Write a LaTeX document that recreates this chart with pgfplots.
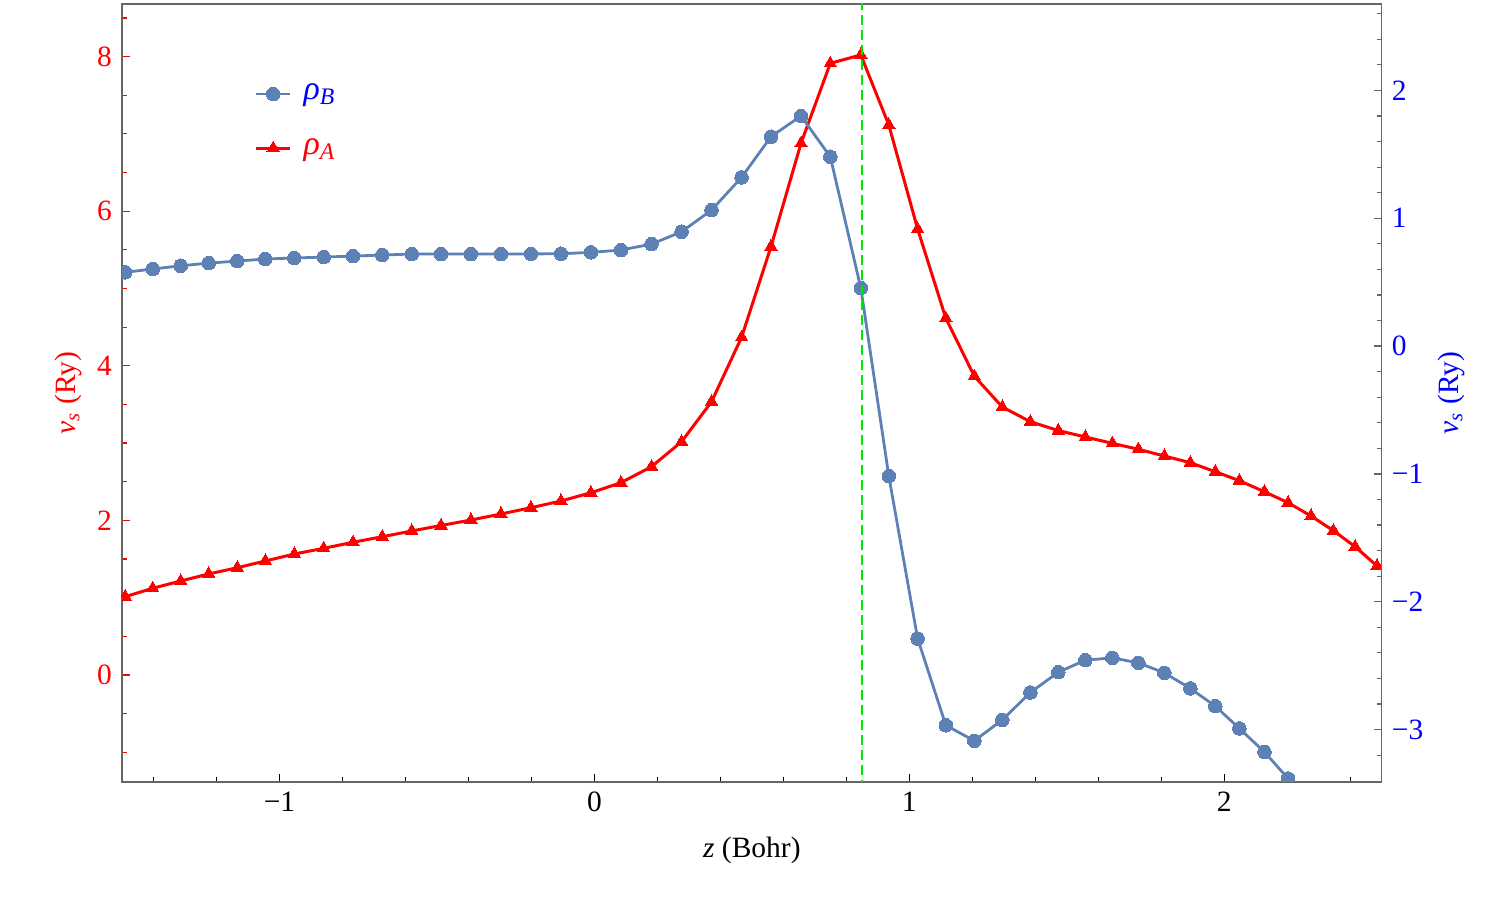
\documentclass[border=0pt]{standalone}
\usepackage{fontspec}
\setmainfont{Liberation Serif}
\usepackage{pgfplots}
\usepackage{pgfplotstable}
\pgfplotsset{compat=1.18}
\definecolor{mblue}{RGB}{94,129,181}
\definecolor{framegray}{gray}{0.4}
\definecolor{lgreen}{RGB}{0,230,0}

\pgfplotstableread{
x r
-1.490 1.013
-1.4025 1.122
-1.3136 1.216
-1.2247 1.307
-1.1339 1.388
-1.0449 1.475
-0.9528 1.565
-0.8595 1.639
-0.7664 1.717
-0.6734 1.789
-0.5800 1.863
-0.487 1.934
-0.3920 2.005
-0.2967 2.083
-0.2014 2.164
-0.1062 2.251
-0.0109 2.358
0.0844 2.488
0.1816 2.695
0.2768 3.018
0.3721 3.536
0.4674 4.369
0.5608 5.541
0.6561 6.878
0.7491 7.913
0.846 8.021
0.9349 7.115
1.0264 5.770
1.1159 4.615
1.2064 3.865
1.2953 3.467
1.3843 3.277
1.4732 3.162
1.5589 3.079
1.6447 2.997
1.7272 2.920
1.8098 2.833
1.8923 2.746
1.9717 2.630
2.0479 2.514
2.1276 2.371
2.2027 2.229
2.2758 2.057
2.3466 1.867
2.4155 1.660
2.4853 1.410
}\redtable

\pgfplotstableread{
x b
-1.490 0.577
-1.4025 0.603
-1.3136 0.628
-1.2247 0.649
-1.1339 0.665
-1.0449 0.681
-0.9528 0.689
-0.8595 0.696
-0.7664 0.704
-0.6734 0.712
-0.5800 0.720
-0.487 0.720
-0.3920 0.720
-0.2967 0.720
-0.2014 0.721
-0.1062 0.722
-0.0109 0.733
0.0844 0.751
0.1816 0.798
0.2768 0.894
0.3721 1.064
0.4674 1.320
0.5608 1.638
0.6561 1.800
0.7491 1.481
0.846 0.454
0.9349 -1.017
1.0264 -2.288
1.1159 -2.966
1.2064 -3.088
1.2953 -2.924
1.3843 -2.710
1.4732 -2.551
1.5589 -2.457
1.6447 -2.439
1.7272 -2.478
1.8098 -2.556
1.8923 -2.678
1.9717 -2.817
2.0479 -2.991
2.1276 -3.175
2.2027 -3.383
}\bluetable

\begin{document}
\fontsize{14.8pt}{17pt}\selectfont
\begin{tikzpicture}
\pgfplotsset{
  every axis/.append style={
    width=629.85bp, height=389bp, scale only axis,
    at={(0,0)}, anchor=south west,
    xmin=-1.5, xmax=2.5,
    clip marker paths=true,
    /pgf/number format/assume math mode=true,
    major tick length=4bp, minor tick length=2.5bp,
    axis line style={framegray, line width=0.6bp},
    every tick/.style={line width=0.6bp},
  },
}
\begin{axis}[
  xtick={-1,0,1,2}, xticklabels={−1,0,1,2},
  minor xtick={-1.4,-1.2,-0.8,-0.6,-0.4,-0.2,0.2,0.4,0.6,0.8,1.2,1.4,1.6,1.8,2.2,2.4},
  xtick pos=left,
  x tick style={black},
  ymin=-1.384, ymax=8.68,
  ytick={0,2,4,6,8},
  minor ytick={-1,-0.5,0.5,1,1.5,2.5,3,3.5,4.5,5,5.5,6.5,7,7.5,8.5},
  ytick pos=left,
  y tick style={red},
  yticklabel style={red},
  xlabel={\textit{z} (Bohr)},
  xlabel style={at={(axis description cs:0.5,-0.0874)}, anchor=center},
  ylabel={\textit{v}\textsubscript{\textit{s}} (Ry)},
  ylabel style={red, at={(axis description cs:-0.0429,0.5)}, anchor=center},
]
\addplot[red, line width=1.5bp, mark=triangle*, mark size=3.6bp,
  mark options={solid, fill=red, draw=red, line width=0pt}]
  table[x=x, y=r]{\redtable};
\end{axis}
\begin{axis}[
  axis x line=none,
  axis y line*=right,
  ymin=-3.41, ymax=2.676,
  ytick={-3,-2,-1,0,1,2}, yticklabels={−3,−2,−1,0,1,2},
  minor ytick={-3.2,-2.8,-2.6,-2.4,-2.2,-1.8,-1.6,-1.4,-1.2,-0.8,-0.6,-0.4,-0.2,0.2,0.4,0.6,0.8,1.2,1.4,1.6,1.8,2.2,2.4,2.6},
  ytick pos=right,
  y tick style={framegray},
  yticklabel style={blue},
  ylabel={\textit{v}\textsubscript{\textit{s}} (Ry)},
  ylabel style={blue, at={(axis description cs:1.0551,0.5)}, anchor=center, rotate=0},
  legend style={at={(axis description cs:0.105,0.903)}, anchor=north west,
    draw=none, fill=none, inner sep=0pt, row sep=13bp,
    font=\fontsize{17pt}{19pt}\selectfont},
  legend cell align=left,
]
\addplot[mblue, line width=1.4bp, mark=*, mark size=3.4bp,
  mark options={solid, fill=mblue, draw=mblue, line width=0pt}]
  table[x=x, y=b]{\bluetable};
\addlegendentry{\hspace{4bp}\textcolor{blue}{\textit{ρ}\textsubscript{\textit{B}}}}
\addlegendimage{red, line width=1.5bp, mark=triangle*, mark size=3.6bp,
  mark options={solid, fill=red, draw=red, line width=0pt}}
\addlegendentry{\hspace{4bp}\textcolor{red}{\textit{ρ}\textsubscript{\textit{A}}}}
\addplot[lgreen, line width=1bp, dash pattern=on 5bp off 2.5bp, forget plot]
  coordinates {(0.851,-5) (0.851,5)};
\end{axis}
\pgfresetboundingbox
\path (-61bp,-60bp) rectangle (689bp,391bp);
\end{tikzpicture}
\end{document}
